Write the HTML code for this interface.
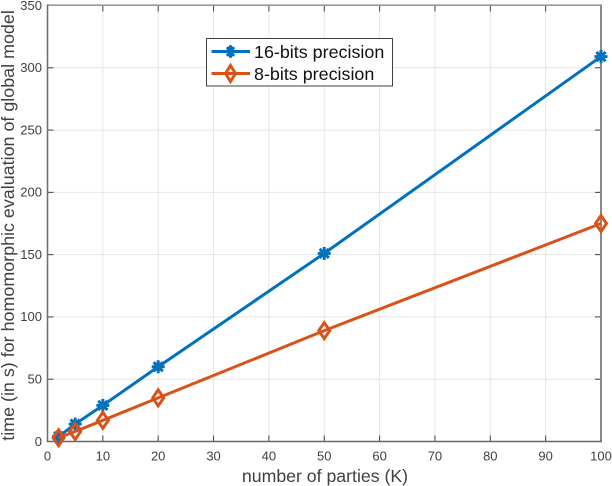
<!DOCTYPE html>
<html>
<head>
<meta charset="utf-8">
<style>
html,body{margin:0;padding:0;background:#fff}
svg{display:block}
text{font-family:"Liberation Sans",sans-serif}
</style>
</head>
<body>
<svg id="chart" xmlns="http://www.w3.org/2000/svg" width="612" height="486" viewBox="0 0 612 486"></svg>
<script>
const parties = [2, 5, 10, 20, 50, 100];
const series16 = [4, 14, 29, 60, 151, 309];
const series8 = [3, 8, 17, 35, 89, 175];
const xTicks = [0, 10, 20, 30, 40, 50, 60, 70, 80, 90, 100];
const yTicks = [0, 50, 100, 150, 200, 250, 300, 350];
const xTitle = 'number of parties (K)';
const yTitle = 'time (in s) for homomorphic evaluation of global model';
const label16 = '16-bits precision';
const label8 = '8-bits precision';

const NS = 'http://www.w3.org/2000/svg';
const svg = document.getElementById('chart');
const L = 47.5, R = 601, T = 5.5, B = 441.5;
const xMax = 100, yMax = 350;
const BLUE = '#0072BD', ORANGE = '#D95319', TEXT = '#404040';
const LW = 3;
function sx(v) { return L + (R - L) * v / xMax; }
function sy(v) { return B - (B - T) * v / yMax; }
function make(tag, attrs, parent) {
  const el = document.createElementNS(NS, tag);
  for (const k in attrs) el.setAttribute(k, attrs[k]);
  (parent || svg).appendChild(el);
  return el;
}
function group(name) {
  const g = make('g', {});
  
  
  return g;
}
function asterisk(g, x, y, rx, ry, color) {
  for (let a = 0; a < 4; a++) {
    const t = a * Math.PI / 4;
    const dx = rx * Math.cos(t), dy = ry * Math.sin(t);
    make('line', {x1: x - dx, y1: y - dy, x2: x + dx, y2: y + dy, stroke: color, 'stroke-width': LW}, g);
  }
}
function diamond(g, x, y, rx, ry, color) {
  make('polygon', {points: [x, y - ry, x + rx, y, x, y + ry, x - rx, y].join(','), fill: 'none', stroke: color, 'stroke-width': LW}, g);
}

const grid = group('grid-lines');
xTicks.forEach(v => {
  if (v > 0 && v < xMax) make('line', {x1: sx(v), x2: sx(v), y1: T, y2: B, stroke: '#e6e6e6', 'stroke-width': 1}, grid);
});
yTicks.forEach(v => {
  if (v > 0 && v < yMax) make('line', {x1: L, x2: R, y1: sy(v), y2: sy(v), stroke: '#e6e6e6', 'stroke-width': 1}, grid);
});

const ticks = group('tick-marks');
xTicks.forEach(v => {
  make('line', {x1: sx(v), x2: sx(v), y1: B, y2: B - 6, stroke: '#404040', 'stroke-width': 1}, ticks);
  make('line', {x1: sx(v), x2: sx(v), y1: T, y2: T + 6, stroke: '#404040', 'stroke-width': 1}, ticks);
});
yTicks.forEach(v => {
  make('line', {x1: L, x2: L + 6, y1: sy(v), y2: sy(v), stroke: '#404040', 'stroke-width': 1}, ticks);
  make('line', {x1: R, x2: R - 6, y1: sy(v), y2: sy(v), stroke: '#404040', 'stroke-width': 1}, ticks);
});

const frame = group('plot-frame');
make('line', {x1: L - 0.5, x2: R + 1, y1: T - 0.3, y2: T - 0.3, stroke: '#999999', 'stroke-width': 1.6}, frame);
make('line', {x1: R, x2: R, y1: T - 1, y2: B + 0.5, stroke: '#888888', 'stroke-width': 2}, frame);
make('line', {x1: L, x2: L, y1: T - 1, y2: B + 0.5, stroke: '#707070', 'stroke-width': 1.6}, frame);
make('line', {x1: L - 0.5, x2: R + 1, y1: B, y2: B, stroke: '#666666', 'stroke-width': 1.4}, frame);

const xLabels = group('x-tick-labels');
xTicks.forEach(v => {
  const t = make('text', {x: sx(v), y: 460.3, 'text-anchor': 'middle', 'font-size': 13, fill: TEXT}, xLabels);
  t.textContent = v;
});
const yLabels = group('y-tick-labels');
yTicks.forEach(v => {
  const t = make('text', {x: 42, y: sy(v) + 4.3, 'text-anchor': 'end', 'font-size': 13, fill: TEXT}, yLabels);
  t.textContent = v;
});

const xt = make('text', {x: 325, y: 482, 'text-anchor': 'middle', 'font-size': 17.7, fill: TEXT});


xt.textContent = xTitle;

const yt = make('text', {x: 0, y: 0, 'text-anchor': 'middle', 'font-size': 17.9, fill: TEXT, transform: 'translate(14 225.5) rotate(-90)'});


yt.textContent = yTitle;

function linePoints(vals) {
  return vals.map((v, i) => sx(parties[i]) + ',' + sy(v)).join(' ');
}
const s16 = group('series-16-bits');
make('polyline', {points: linePoints(series16), fill: 'none', stroke: BLUE, 'stroke-width': LW}, s16);
series16.forEach((v, i) => asterisk(s16, sx(parties[i]), sy(v), 6.5, 6.5, BLUE));

const s8 = group('series-8-bits');
make('polyline', {points: linePoints(series8), fill: 'none', stroke: ORANGE, 'stroke-width': LW}, s8);
series8.forEach((v, i) => diamond(s8, sx(parties[i]), sy(v), 5.5, 8, ORANGE));

const legend = group('legend');
make('rect', {x: 206.5, y: 38.5, width: 186, height: 47.5, fill: '#fff', stroke: '#404040', 'stroke-width': 1}, legend);
make('line', {x1: 211.5, x2: 250, y1: 51.5, y2: 51.5, stroke: BLUE, 'stroke-width': LW}, legend);
asterisk(legend, 230.5, 51.5, 5, 6.3, BLUE);
make('line', {x1: 211.5, x2: 250, y1: 73.5, y2: 73.5, stroke: ORANGE, 'stroke-width': LW}, legend);
diamond(legend, 230.5, 73.5, 5, 8, ORANGE);
const l16 = make('text', {x: 254, y: 58, 'font-size': 17.9, fill: '#111'}, legend);


l16.textContent = label16;
const l8 = make('text', {x: 254, y: 80, 'font-size': 17.9, fill: '#111'}, legend);


l8.textContent = label8;
</script>
</body>
</html>
